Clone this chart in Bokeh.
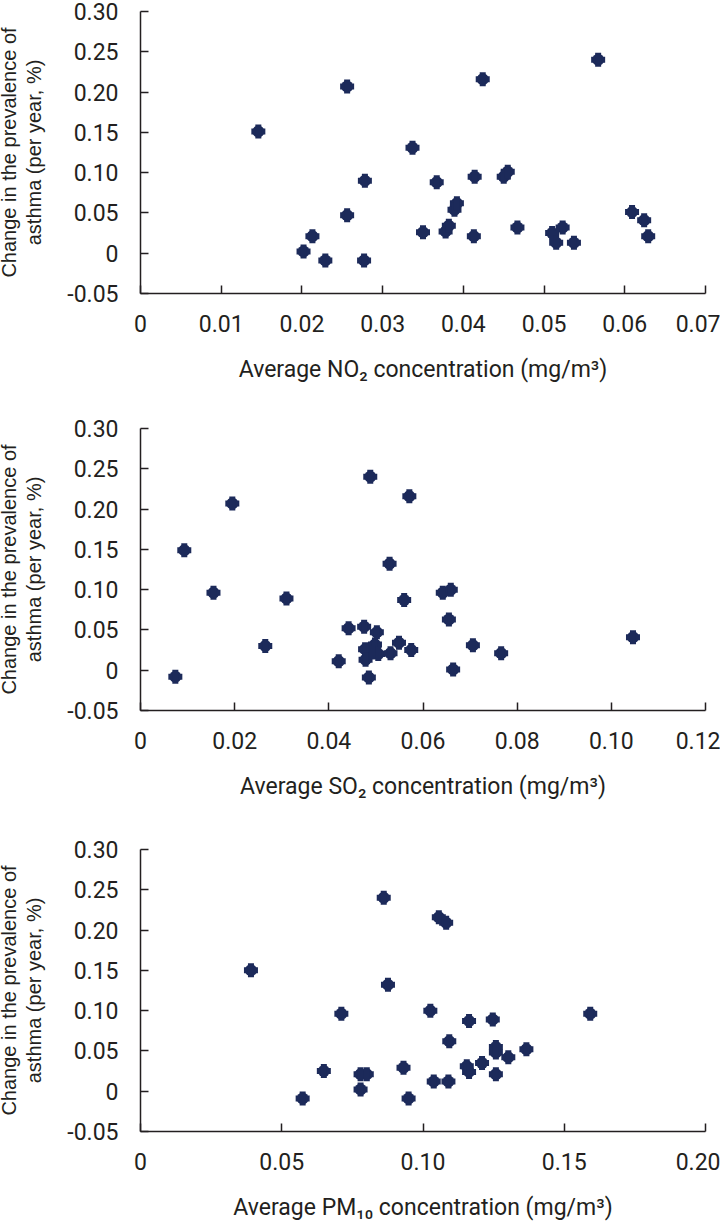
from bokeh.plotting import figure
from bokeh.layouts import column
from bokeh.models import FixedTicker, Range1d
from bokeh.embed import file_html
from bokeh.resources import INLINE

# ---------------- data ----------------
y_ticks = [-0.05, 0.0, 0.05, 0.10, 0.15, 0.20, 0.25, 0.30]
y_tick_labels = ["-0.05", "0", "0.05", "0.10", "0.15", "0.20", "0.25", "0.30"]
y_title = "Change in the prevalence of\nasthma (per year, %)"

no2_x = [0.0146, 0.0256, 0.0202, 0.0213, 0.0229, 0.0256, 0.0277, 0.0278, 0.0337, 0.0350,
         0.0367, 0.0378, 0.0382, 0.0389, 0.0392, 0.0424, 0.0414, 0.0413, 0.0450, 0.0455,
         0.0467, 0.0567, 0.0510, 0.0515, 0.0523, 0.0537, 0.0609, 0.0624, 0.0629]
no2_y = [0.151, 0.207, 0.002, 0.021, -0.009, 0.047, -0.009, 0.090, 0.131, 0.026,
         0.088, 0.027, 0.034, 0.054, 0.062, 0.216, 0.095, 0.021, 0.095, 0.101,
         0.032, 0.240, 0.025, 0.013, 0.032, 0.013, 0.051, 0.041, 0.021]
no2_ticks = [0.0, 0.01, 0.02, 0.03, 0.04, 0.05, 0.06, 0.07]
no2_tick_labels = ["0", "0.01", "0.02", "0.03", "0.04", "0.05", "0.06", "0.07"]
no2_title = "Average NO\u2082 concentration (mg/m\u00b3)"

so2_x = [0.0074, 0.0093, 0.0155, 0.0195, 0.0265, 0.0310, 0.0421, 0.0442, 0.0475, 0.0477,
         0.0478, 0.0485, 0.0488, 0.0498, 0.0502, 0.0493, 0.0505, 0.0529, 0.0531, 0.0549,
         0.0560, 0.0571, 0.0575, 0.0642, 0.0659, 0.0655, 0.0664, 0.0706, 0.0766, 0.1046]
so2_y = [-0.008, 0.149, 0.096, 0.207, 0.030, 0.089, 0.011, 0.052, 0.054, 0.026,
         0.013, -0.009, 0.240, 0.032, 0.047, 0.022, 0.020, 0.132, 0.021, 0.034,
         0.087, 0.216, 0.025, 0.096, 0.100, 0.063, 0.001, 0.031, 0.021, 0.041]
so2_ticks = [0.0, 0.02, 0.04, 0.06, 0.08, 0.10, 0.12]
so2_tick_labels = ["0", "0.02", "0.04", "0.06", "0.08", "0.10", "0.12"]
so2_title = "Average SO\u2082 concentration (mg/m\u00b3)"

pm10_x = [0.0391, 0.0574, 0.0649, 0.0711, 0.0779, 0.0801, 0.0779, 0.0861, 0.0876, 0.0931,
          0.0949, 0.1026, 0.1038, 0.1056, 0.1082, 0.1093, 0.1090, 0.1163, 0.1155, 0.1163,
          0.1209, 0.1247, 0.1258, 0.1258, 0.1258, 0.1302, 0.1366, 0.1592]
pm10_y = [0.150, -0.009, 0.025, 0.096, 0.021, 0.021, 0.002, 0.240, 0.132, 0.029,
          -0.009, 0.100, 0.012, 0.216, 0.209, 0.062, 0.012, 0.087, 0.031, 0.024,
          0.035, 0.089, 0.055, 0.048, 0.021, 0.042, 0.052, 0.096]
pm10_ticks = [0.0, 0.05, 0.10, 0.15, 0.20]
pm10_tick_labels = ["0", "0.05", "0.10", "0.15", "0.20"]
pm10_title = "Average PM\u2081\u2080 concentration (mg/m\u00b3)"

# ---------------- styling ----------------
NAVY = "#1c2a5a"
INK = "#231f20"
TICKFONT = "Roboto"
REG = "Liberation Sans"


def panel(xs, ys, xticks, xlabels, xtitle, border_top, border_bottom):
    p = figure(frame_width=565, frame_height=282,
               x_range=Range1d(xticks[0], xticks[-1]),
               y_range=Range1d(y_ticks[0], y_ticks[-1]),
               min_border_left=137, min_border_right=15, min_border_top=border_top,
               min_border_bottom=border_bottom,
               output_backend="svg", toolbar_location=None)
    p.outline_line_color = None
    p.xgrid.grid_line_color = None
    p.ygrid.grid_line_color = None
    p.background_fill_color = "white"
    p.border_fill_color = "white"

    for ax, ticks, labels in ((p.xaxis[0], xticks, xlabels), (p.yaxis[0], y_ticks, y_tick_labels)):
        ax.ticker = FixedTicker(ticks=ticks)
        ax.major_label_overrides = {t: l for t, l in zip(ticks, labels)}
        ax.minor_tick_line_color = None
        ax.major_tick_in = 8
        ax.major_tick_out = 0
        ax.axis_line_color = INK
        ax.axis_line_width = 1.5
        ax.major_tick_line_color = INK
        ax.major_tick_line_width = 1.5
        ax.major_label_text_font = TICKFONT
        ax.major_label_text_font_size = "23px"
        ax.major_label_text_color = INK
        ax.axis_label_text_font_style = "normal"
        ax.axis_label_text_color = INK

    p.xaxis.major_label_standoff = 21
    p.xaxis.axis_label = xtitle
    p.xaxis.axis_label_text_font = TICKFONT
    p.xaxis.axis_label_text_font_size = "23px"
    p.xaxis.axis_label_standoff = 21

    p.yaxis.major_label_standoff = 22
    p.yaxis.axis_label = y_title
    p.yaxis.axis_label_text_font = REG
    p.yaxis.axis_label_text_font_size = "20px"
    p.yaxis.axis_label_text_line_height = 1.15
    p.yaxis.axis_label_standoff = 19

    p.scatter(xs, ys, marker="circle", size=12, fill_color=NAVY, line_color=None)
    p.rect(xs, ys, width=14, height=6, width_units="screen", height_units="screen",
           fill_color=NAVY, line_color=None)
    p.rect(xs, ys, width=6, height=14, width_units="screen", height_units="screen",
           fill_color=NAVY, line_color=None)
    return p


p1 = panel(no2_x, no2_y, no2_ticks, no2_tick_labels, no2_title, 19, 123)
p2 = panel(so2_x, so2_y, so2_ticks, so2_tick_labels, so2_title, 12, 127)
p3 = panel(pm10_x, pm10_y, pm10_ticks, pm10_tick_labels, pm10_title, 12, 90)

layout = column(p1, p2, p3, spacing=0, margin=(-8, 0, -8, -5))

open("out.html", "w").write(file_html(layout, INLINE))
